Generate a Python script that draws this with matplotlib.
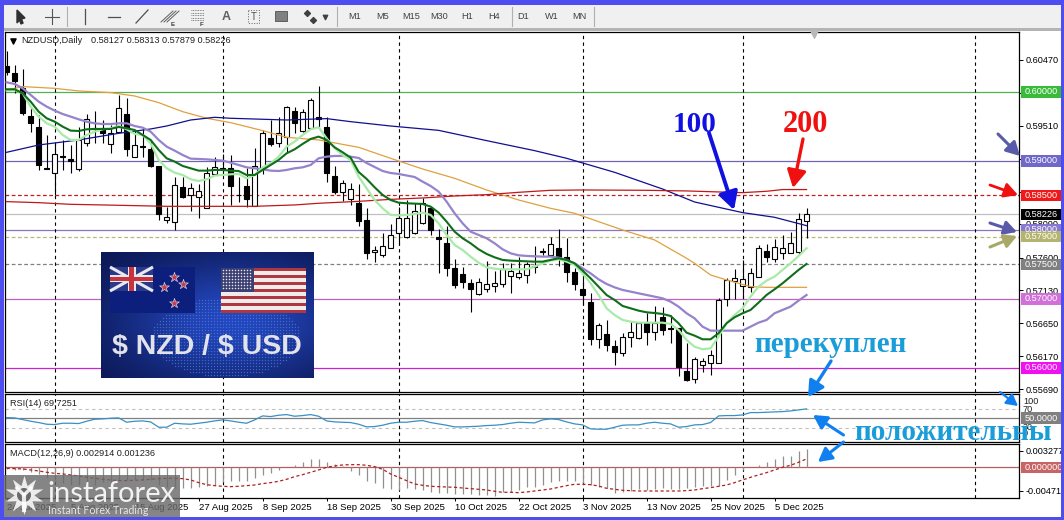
import numpy as np
import matplotlib
matplotlib.use("Agg")
import matplotlib.pyplot as plt
from matplotlib.patches import Rectangle, Circle

plt.rcParams["font.family"] = ["Liberation Sans", "DejaVu Sans"]

# all prices in points (1e-5), macd in 1e-5 too
candle_high = [60594,60392,60329,59764,59667,59377,59256,59305,59232,59498,59681,59725,59594,59522,59957,59918,59449,59474,59305,58928,
58338,58764,58764,58677,58667,58918,59053,59102,59087,58773,58894,59184,59449,59594,59633,59797,59788,59749,59908,60087,
59643,58928,58725,58677,58667,58314,57773,57952,58087,58339,58435,58387,58459,58314,58010,58063,57575,57459,57290,57310,
57551,57411,57527,57517,57604,57541,57768,57735,57894,58010,57889,57445,57300,57082,56648,56696,56406,56503,56681,56662,
56793,56904,56889,56768,56575,56358,56165,56150,56261,57010,57310,57430,57566,57445,57778,57793,57865,57923,57976,58242,58313]
candle_open = [60377,60271,60053,59652,59488,58894,58821,59073,59024,58879,59256,59474,59483,59242,59425,59681,59053,59218,59169,58928,
58145,58111,58628,58507,58474,58314,58807,58894,58894,58512,58638,58348,58894,59334,59266,59353,59720,59430,59474,59633,
59488,58783,58551,58445,58396,58145,57677,57643,57735,57952,57894,57952,58107,58314,57894,57807,57445,57358,57227,57073,
57150,57194,57218,57339,57324,57353,57479,57691,57643,57735,57604,57387,57145,56952,56425,56488,56314,56223,56454,56430,
56648,56527,56735,56575,56575,55957,55836,56039,56068,56078,56996,57256,57189,57169,57324,57691,57575,57662,57672,57686,58127]
candle_close = [60290,60164,59701,59546,58937,58879,59097,59053,59005,59305,59604,59464,59411,59401,59764,59179,59227,59198,58928,58232,
58184,58648,58483,58604,58570,58821,58918,58879,58643,58503,58454,58928,59401,59251,59401,59778,59546,59706,59879,59604,
58831,58556,58686,58590,58136,57672,57710,57768,57928,58169,58169,58281,58396,58000,57865,57445,57198,57252,57150,57242,
57223,57227,57430,57411,57372,57508,57464,57681,57793,57590,57396,57218,57058,56425,56619,56339,56237,56445,56527,56657,
56522,56657,56551,56561,56020,55826,56126,56097,56189,56986,57276,57310,57285,57372,57735,57614,57759,57744,57807,58155,58226]
candle_low = [60246,59981,59667,59425,58870,58879,58507,58870,58821,58860,59218,59256,59256,59111,59425,59073,59053,59053,58908,58145,
58106,58000,58459,58280,58179,58314,58797,58797,58363,58411,58329,58348,58812,59218,59208,59111,59401,59425,59474,59498,
58701,58522,58425,58363,58058,57585,57541,57604,57735,57783,57880,57942,58087,57928,57372,57339,57155,57155,56817,57058,
57107,57107,57179,57092,57290,57237,57382,57638,57638,57479,57252,57131,56913,56339,56295,56252,56044,56179,56309,56416,
56334,56406,56479,56367,55889,55812,55778,55947,55899,56078,56899,57000,57010,57107,57314,57541,57541,57580,57662,57638,57879]

ma_fast = [60020,60029,59981,59788,59643,59546,59498,59377,59305,59305,59377,59425,59459,59474,59507,59459,59392,59377,59256,59015,
58894,58831,58797,58735,58710,58735,58788,58797,58807,58812,58749,58797,58908,58966,59063,59208,59280,59377,59459,59488,
59329,59184,59087,59015,58773,58604,58435,58314,58218,58213,58218,58232,58252,58218,58097,57928,57783,57710,57614,57527,
57459,57440,57430,57430,57430,57430,57469,57517,57556,57575,57541,57493,57372,57227,57058,56865,56768,56696,56672,56657,
56657,56657,56657,56638,56551,56406,56309,56271,56285,56454,56648,56768,56865,57034,57179,57266,57324,57421,57517,57624,57735]
ma_mid = [60039,60039,59981,59860,59715,59619,59570,59498,59440,59435,59459,59464,59464,59464,59493,59474,59449,59377,59305,59160,
59039,58991,58928,58894,58860,58860,58870,58870,58860,58855,58797,58797,58870,58942,59015,59111,59169,59247,59319,59353,
59305,59198,59126,59049,58841,58740,58619,58508,58435,58396,58387,58382,58377,58339,58252,58121,57976,57880,57807,57720,
57653,57604,57566,57556,57551,57546,57541,57541,57566,57590,57566,57517,57411,57300,57179,57058,56986,56899,56865,56831,
56807,56797,56783,56754,56648,56512,56469,56416,56416,56503,56648,56735,56793,56841,56947,57058,57140,57227,57324,57421,57508]
ma_purple = [60140,60116,60053,59957,59860,59788,59730,59681,59643,59604,59570,59546,59536,59536,59546,59546,59507,59483,59425,59305,
59208,59150,59087,59034,59029,59024,59015,59005,58976,58942,58908,58894,58879,58860,58855,58870,58894,58908,58942,59039,
59063,59073,59073,59063,59044,58971,58913,58855,58826,58812,58790,58768,58701,58638,58556,58411,58242,58097,57976,57928,
57880,57807,57720,57662,57633,57624,57619,57614,57614,57599,57566,57517,57445,57372,57285,57218,57169,57131,57107,57082,
57058,57034,57010,56962,56889,56793,56720,56599,56541,56541,56541,56541,56541,56599,56657,56696,56793,56841,56889,56976,57058]

ma_orange_idx = [0,2,6,9,13,16,19,22,25,28,32,35,39,44,48,52,56,60,64,68,71,77,81,85,86,88,90,93,95,100]
ma_orange = [60029,60078,60053,60015,59991,59942,59846,59715,59619,59556,59440,59343,59305,59198,59039,58884,58749,58580,58435,58314,
58242,58000,57856,57590,57517,57348,57276,57179,57169,57169]
ma100_idx = [0,4,9,14,18,20,23,26,28,35,40,43,48,54,60,66,70,76,82,86,92,96,100]
ma100 = [59126,59232,59305,59401,59464,59507,59594,59633,59619,59594,59614,59570,59507,59444,59295,59150,59039,58836,58594,58406,58252,58184,58063]
ma200_idx = [0,4,8,12,16,20,31,36,39,44,48,52,56,60,64,68,72,80,85,88,92,95,97,100]
ma200 = [58411,58396,58372,58363,58353,58343,58343,58363,58387,58415,58444,58464,58493,58512,58546,58575,58580,58575,58566,58555,58541,58561,58586,58586]

rsi_values = [51.4,50.7,47.2,43.7,40.9,37.4,36.7,39.5,39.5,38.8,43.7,47.9,48.6,50,50.7,41.6,43.7,44.4,42.3,31.1,
31.1,39.5,38.1,37.4,39.5,41.6,44.4,46.5,44.4,41.6,39.5,46.5,54.9,53.5,56.3,57.7,54.2,55.6,57.7,54.2,
44.4,42.3,41.6,40.9,37.4,31.8,32.5,35.3,39.5,41.6,41.6,43.7,45.1,40.9,38.1,35.3,31.8,31.8,32.5,33.2,
34.6,35.3,36.7,39.5,41.6,40.9,40.2,46.5,48.6,47.2,42.3,38.1,36,27.6,26.9,26.9,31.1,35.3,36,36,
39.5,41.6,39.5,38.1,31.1,32.5,36,36.7,40.9,54.9,55.6,55.6,57,61.9,61.9,62.6,63.3,64,65.4,67.5,69.7]

macd_hist = [-27,-53,-53,-87,-140,-220,-253,-320,-354,-354,-354,-354,-287,-287,-253,-253,-253,-253,-253,-354,
-387,-407,-420,-407,-387,-374,-354,-287,-267,-267,-267,-220,-153,-120,-53,0,47,107,160,160,
113,67,27,-73,-153,-267,-320,-420,-434,-454,-420,-434,-454,-487,-507,-520,-534,-534,-534,-547,
-560,-574,-487,-487,-454,-400,-387,-354,-287,-267,-267,-267,-320,-354,-387,-420,-520,-487,-467,-440,
-454,-440,-420,-434,-434,-420,-400,-367,-367,-367,-253,-153,-53,0,47,100,160,227,233,320,374]
macd_signal = [-20,-27,-33,-53,-73,-100,-120,-133,-153,-173,-200,-220,-240,-253,-267,-267,-260,-253,-240,-227,
-220,-220,-227,-253,-307,-347,-367,-380,-387,-380,-367,-354,-327,-307,-280,-240,-187,-147,-100,-53,
0,27,47,53,53,40,13,-40,-133,-200,-267,-334,-360,-380,-387,-394,-400,-414,-427,-440,
-454,-480,-500,-500,-507,-494,-474,-454,-434,-400,-367,-340,-340,-347,-374,-420,-440,-460,-467,-474,
-474,-474,-474,-474,-474,-467,-454,-427,-407,-380,-354,-307,-253,-200,-153,-107,-53,0,40,100,167]

level_prices = [0.60000,0.59000,0.58500,0.58226,0.58000,0.57900,0.57500,0.57000,0.56000]
level_names = ["0.60000","0.59000","0.58500","0.58226","0.58000","0.57900","0.57500","0.57000","0.56000"]
level_colors = ["#55b055","#7363b5","#c02020","#c0c0c0","#8a75c0","#b8b878","#808080","#c060c0","#d020d0"]
level_tags = ["#38bb38","#7068c8","#f01818","#000000","#8878d0","#b4b470","#808080","#d070d8","#f010f0"]
level_dashed = [False,False,True,False,False,True,True,False,False]

grid_idx = [6,27,49,72,92,121]
date_idx = [0,8,16,24,32,40,48,56,64,72,80,88,96]
date_labels = ["24 Jul 2025","5 Aug 2025","15 Aug 2025","27 Aug 2025","8 Sep 2025","18 Sep 2025","30 Sep 2025",
               "10 Oct 2025","22 Oct 2025","3 Nov 2025","13 Nov 2025","25 Nov 2025","5 Dec 2025"]
price_ticks = [0.60470,0.59990,0.59510,0.59030,0.58550,0.58090,0.57600,0.57130,0.56650,0.56170,0.55690]

W, H = 1064, 520
FS = 6.6
fig = plt.figure(figsize=(W / 100, H / 100), dpi=100, facecolor="white")


def px_axes(left, top, right, bottom):
    return fig.add_axes([left / W, 1 - bottom / H, (right - left) / W, (bottom - top) / H])


ax = px_axes(5, 32.3, 1019.3, 392)
ax_rsi = px_axes(5, 394, 1019.3, 442)
ax_macd = px_axes(5, 444, 1019.3, 498.3)
for a in (ax, ax_rsi, ax_macd):
    a.set_xlim(-0.21, 126.6)
    for s in a.spines.values():
        s.set_linewidth(0.9)
    a.yaxis.tick_right()
    a.tick_params(axis="y", length=3, width=0.7, labelsize=FS, pad=1.5)
    a.tick_params(axis="x", length=0)
    a.set_xticks([])
    for g in grid_idx:
        a.axvline(g, color="black", lw=0.8, ls=(0, (3, 3)), zorder=1.5)

# main panel
ax.set_ylim(0.55652, 0.60865)
ax.set_yticks(price_ticks)
ax.set_yticklabels(["%.5f" % t for t in price_ticks])

for p, c, d in zip(level_prices, level_colors, level_dashed):
    ax.axhline(p, color=c, lw=0.9, ls=(0, (3, 2)) if d else "-", zorder=1)

o = np.array(candle_open) / 1e5
c = np.array(candle_close) / 1e5
hi = np.array(candle_high) / 1e5
lo = np.array(candle_low) / 1e5
x = np.arange(len(o))
ax.vlines(x, lo, hi, color="black", lw=0.8, zorder=2)
up = c >= o
ax.bar(x[up], (c - o)[up], bottom=o[up], width=0.6, facecolor="white", edgecolor="black", lw=0.8, zorder=2.2)
ax.bar(x[~up], (o - c)[~up], bottom=c[~up], width=0.6, facecolor="black", edgecolor="black", lw=0.8, zorder=2.2)

ax.plot(ma_orange_idx, np.array(ma_orange) / 1e5, color="#e0a040", lw=0.9, zorder=3)
ax.plot(ma100_idx, np.array(ma100) / 1e5, color="#101090", lw=0.9, zorder=3)
ax.plot(ma200_idx, np.array(ma200) / 1e5, color="#c01818", lw=0.9, zorder=3)
ax.plot(np.arange(len(ma_purple)), np.array(ma_purple) / 1e5, color="#9583cc", lw=1.6, zorder=3.1)
ax.plot(np.arange(len(ma_fast)), np.array(ma_fast) / 1e5, color="#a8eaa8", lw=1.6, zorder=3.2)
ax.plot(np.arange(len(ma_mid)), np.array(ma_mid) / 1e5, color="#0f6e1a", lw=1.5, zorder=3.3)

# price tags on the right
trans = ax.get_yaxis_transform()
for p, name, col in zip(level_prices, level_names, level_tags):
    ax.add_patch(Rectangle((1.0015, p - 0.0008), 0.05, 0.0016, transform=trans, clip_on=False, facecolor=col, zorder=6))
    ax.text(1.0055, p, name, transform=trans, color="white", fontsize=FS, va="center", clip_on=False, zorder=7)

# rsi panel
ax_rsi.set_ylim(0, 101)
ax_rsi.set_yticks([])
ax_rsi.axhline(70, color="#c0c0c0", lw=0.8, ls=(0, (3, 3)), zorder=1)
ax_rsi.axhline(30, color="#c0c0c0", lw=0.8, ls=(0, (3, 3)), zorder=1)
ax_rsi.axhline(50, color="#808080", lw=0.9, zorder=1)
ax_rsi.plot(np.arange(len(rsi_values)), rsi_values, color="#3a8fc4", lw=0.9, zorder=3)
t2 = ax_rsi.get_yaxis_transform()
ax_rsi.add_patch(Rectangle((1.0015, 37), 0.05, 26, transform=t2, clip_on=False, facecolor="#808080", zorder=6))
ax_rsi.text(1.0055, 50, "50.0000", transform=t2, color="white", fontsize=FS, va="center", clip_on=False, zorder=7)

# macd panel
ax_macd.set_ylim(-0.0062, 0.00466)
ax_macd.set_yticks([0.003277, -0.004716])
ax_macd.set_yticklabels(["0.003277", "-0.004716"])
ax_macd.axhline(0, color="#b06060", lw=0.9, zorder=1)
ax_macd.vlines(np.arange(len(macd_hist)), 0, np.array(macd_hist) / 1e5, color="#909090", lw=0.9, zorder=2)
ax_macd.plot(np.arange(len(macd_signal)), np.array(macd_signal) / 1e5, color="#b02020", lw=0.9, ls=(0, (2.5, 2)), zorder=3)
t3 = ax_macd.get_yaxis_transform()
ax_macd.add_patch(Rectangle((1.0015, -0.0011), 0.05, 0.0022, transform=t3, clip_on=False, facecolor="#c86464", zorder=6))
ax_macd.text(1.0055, 0, "0.000000", transform=t3, color="white", fontsize=FS, va="center", clip_on=False, zorder=7)
ax_macd.set_xticks(date_idx)
ax_macd.set_xticklabels(date_labels, fontsize=6.8, ha="left")
ax_macd.tick_params(axis="x", length=2, width=0.7, pad=1.5)

# banner picture
bn = px_axes(101, 252, 314, 378)
bn.set_xlim(0, 213)
bn.set_ylim(126, 0)
bn.axis("off")
gx, gy = np.meshgrid(np.linspace(0, 1, 80), np.linspace(0, 1, 50))
glow = np.exp(-(((gx - 0.62) / 0.55) ** 2 + ((gy - 0.55) / 0.5) ** 2))
bg = np.dstack([0.04 + 0.10 * glow, 0.08 + 0.20 * glow, 0.30 + 0.45 * glow])
bn.imshow(bg, extent=(0, 213, 126, 0), aspect="auto", zorder=0)
dx, dy = np.meshgrid(np.arange(50, 210, 3.0), np.arange(45, 126, 3.0))
mask = ((dx - 125) / 75) ** 2 + ((dy - 85) / 40) ** 2 < 1
bn.scatter(dx[mask], dy[mask], s=0.9, color="#4f82e0", linewidths=0, alpha=0.7, zorder=1)

bn.add_patch(Rectangle((9, 15), 85, 46, facecolor="#0c1f7c", zorder=2))
bn.add_patch(Rectangle((9, 15), 43, 24, facecolor="#2a3a88", zorder=2))
bn.plot([9, 52], [15, 39], color="#e8e8f0", lw=2.2, zorder=2.2, solid_capstyle="butt")
bn.plot([9, 52], [39, 15], color="#e8e8f0", lw=2.2, zorder=2.2, solid_capstyle="butt")
bn.add_patch(Rectangle((9, 23.5), 43, 7, facecolor="#e8e8f0", zorder=2.3))
bn.add_patch(Rectangle((26.5, 15), 8, 24, facecolor="#e8e8f0", zorder=2.3))
bn.add_patch(Rectangle((9, 25), 43, 4, facecolor="#c8343c", zorder=2.4))
bn.add_patch(Rectangle((28, 15), 5, 24, facecolor="#c8343c", zorder=2.4))
bn.scatter([73, 63, 82, 73], [25, 35, 32, 51], marker="*", s=55, color="#c04050", edgecolors="#e8e8f0", linewidths=0.4, zorder=3)

for k in range(13):
    col = "#b0363f" if k % 2 == 0 else "#f0ecec"
    bn.add_patch(Rectangle((120, 16 + k * 45 / 13), 85, 45 / 13, facecolor=col, zorder=2))
bn.add_patch(Rectangle((120, 16), 33, 24, facecolor="#3c3f72", zorder=2.5))
sx, sy = np.meshgrid(np.arange(122, 152, 3.0), np.arange(18, 39, 3.0))
bn.scatter(sx.ravel(), sy.ravel(), s=1.2, color="#e8e8f0", linewidths=0, zorder=3)

bn.text(106, 95, r"\$ NZD / \$ USD", color="#e2e2ea", fontsize=20.5, fontweight="bold", family="Liberation Sans",
        ha="center", va="center", zorder=4)

# everything that sits on top: toolbar, frame, notes, watermark
ov = fig.add_axes([0, 0, 1, 1], zorder=10)
ov.set_xlim(0, W)
ov.set_ylim(H, 0)
ov.axis("off")


def box(x0, y0, x1, y1, col, **kw):
    ov.add_patch(Rectangle((x0, y0), x1 - x0, y1 - y0, facecolor=col, edgecolor="none", **kw))


BLUE = "#4d4df0"
box(0, 4, W, 28, "#f0f0f0")
box(0, 28, W, 31, "#b4b4b4")
box(0, 0, W, 5, BLUE)
box(0, 0, 4, H, BLUE)
box(1061, 0, W, H, BLUE)
box(0, 517, W, H, BLUE)

for sx_ in [67, 337, 511.5, 594]:
    ov.plot([sx_, sx_], [7, 26], color="#b0b0b0", lw=0.8)
for name, tx in zip(["M1","M5","M15","M30","H1","H4","D1","W1","MN"], [355,383,411,439,467,494.5,523.5,552,579]):
    ov.text(tx, 16.5, name, fontsize=6.6, color="#404040", ha="center", va="center")

# toolbar icons
ov.fill([17, 17, 19.5, 21, 23, 21.5, 25], [10, 23, 20, 24, 23, 19, 18], color="#303030", zorder=3)
ov.plot([52, 52], [9, 24], color="#555555", lw=0.8)
ov.plot([45, 59], [16.5, 16.5], color="#555555", lw=0.8)
ov.plot([85, 85], [9, 24], color="#505050", lw=0.9)
ov.plot([108, 120], [16.5, 16.5], color="#505050", lw=0.9)
ov.plot([136, 148], [23, 10], color="#505050", lw=0.9)
for off in [-3, 0, 3]:
    ov.plot([164 + off, 176 + off], [22, 11], color="#606060", lw=0.7)
for k in range(5):
    ov.plot([191, 204], [10 + k * 2.5, 10 + k * 2.5], color="#606060", lw=0.6, ls=(0, (1, 1)))
ov.text(173, 24, "E", fontsize=4.5, fontweight="bold", color="#404040", ha="center", va="center")
ov.text(202, 24, "F", fontsize=4.5, fontweight="bold", color="#404040", ha="center", va="center")
ov.text(226, 16.5, "A", fontsize=9, fontweight="bold", color="#606060", ha="center", va="center")
ov.add_patch(Rectangle((248, 10), 11, 13, facecolor="none", edgecolor="#606060", lw=0.7, ls=":"))
ov.text(254, 16.5, "T", fontsize=7, color="#505050", ha="center", va="center")
ov.add_patch(Rectangle((275, 11), 12, 10, facecolor="#808080", edgecolor="#606060", lw=0.7))
ov.scatter([307, 313], [13, 20], marker="D", s=9, color="#404040")
ov.scatter([324.5], [16.5], marker="v", s=10, color="#404040")

# header and indicator titles
ov.scatter([13], [40.5], marker="v", s=14, color="black")
ov.text(21, 40.5, "NZDUSD,Daily", fontsize=FS, color="#202020", va="center")
ov.text(91, 40.5, "0.58127 0.58313 0.57879 0.58226", fontsize=FS, color="#202020", va="center")
ov.text(10, 403.5, "RSI(14) 69.7251", fontsize=FS, color="#202020", va="center")
ov.text(10, 453, "MACD(12,26,9) 0.002914 0.001236", fontsize=FS, color="#202020", va="center")
ov.scatter([814], [34], marker="v", s=30, color="#b8b8b8")
for name, ty in zip(["100", "70", "30", "0"], [401.5, 409, 428, 434]):
    ov.text(1023, ty, name, fontsize=FS, color="#202020", va="center")


def note_arrow(x0, y0, x1, y1, col, lw=2.6, scale=17):
    ov.annotate("", xy=(x1, y1), xytext=(x0, y0),
                arrowprops=dict(arrowstyle="-|>,head_length=0.62,head_width=0.34", color=col, lw=lw,
                                mutation_scale=scale, shrinkA=0, shrinkB=0))


SERIF = "Liberation Serif"
ov.text(695, 124, "100", color="#1010e0", fontsize=21, fontweight="bold", family=SERIF, ha="center", va="center")
ov.text(805, 124, "200", color="#f01010", fontsize=22, fontweight="bold", family=SERIF, ha="center", va="center")
ov.text(830, 345, "перекуплен", color="#1a9cd8", fontsize=21, fontweight="bold", family=SERIF, ha="center", va="center")
ov.text(953, 433, "положительны", color="#1a9cd8", fontsize=21, fontweight="bold", family=SERIF, ha="center", va="center")

note_arrow(709, 133, 734, 210, "#1010e0", lw=2.8)
note_arrow(803, 139, 793, 188, "#f01010", lw=2.4)
note_arrow(998, 134, 1020, 156, "#5a5aaa", lw=2.2, scale=13)
note_arrow(990, 185, 1018, 195, "#f01010", lw=2.0, scale=13)
note_arrow(990, 223, 1017, 232, "#5a5aaa", lw=2.2, scale=12)
note_arrow(990, 247, 1017, 236, "#a8a868", lw=2.2, scale=12)
note_arrow(831, 361, 808, 397, "#1080f0", lw=2.4, scale=15)
note_arrow(1000, 392, 1018, 406, "#1080f0", lw=1.6, scale=11)
note_arrow(843.5, 435, 813, 415, "#1080f0", lw=2.2, scale=13)
note_arrow(843.5, 442, 818, 462, "#1080f0", lw=2.2, scale=13)

# watermark
box(0, 475, 180, 517, "#6a6a6a", alpha=0.82)
box(0, 0, 4, H, BLUE)
box(0, 517, W, H, BLUE)
ov.scatter([24], [495], marker=(10, 1, 0), s=800, color="white", alpha=0.85, linewidths=0)
ov.add_patch(Circle((24, 495), 7, facecolor="#6a6a6a", edgecolor="none"))
ov.plot([24, 24], [495, 510], color="white", lw=3, alpha=0.85)
ov.plot([17, 24, 31], [488, 495, 488], color="white", lw=2.5, alpha=0.85)
ov.text(47, 494, "instaforex", color="white", alpha=0.9, fontsize=21, family="Lato", va="center")
ov.text(48, 511, "Instant Forex Trading", color="white", alpha=0.8, fontsize=7.7, family="Lato", va="center")

fig.savefig("out.png", dpi=100)
